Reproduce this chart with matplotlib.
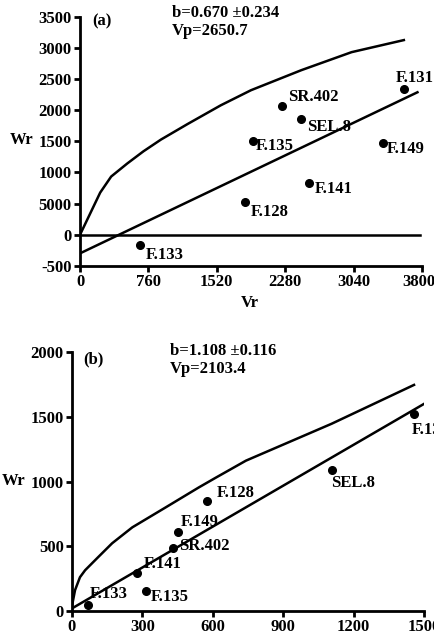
import matplotlib
matplotlib.use("Agg")
import matplotlib.pyplot as plt
import matplotlib.transforms as mtransforms

plt.rcParams['font.family'] = ['Liberation Serif', 'DejaVu Serif']
plt.rcParams['font.weight'] = 'bold'
plt.rcParams['font.size'] = 12

# ---- panel (a) data ----
a_names = ['F.131', 'SR.402', 'SEL.8', 'F.135', 'F.149', 'F.141', 'F.128', 'F.133']
a_vr = [3599, 2246, 2459, 1922, 3364, 2548, 1833, 671]
a_wr = [2339, 2065, 1855, 1500, 1468, 839, 532, -161]
a_curve_vr = [0, 224, 346, 525, 704, 900, 1196, 1565, 1900, 2459, 3018, 3599]
a_curve_wr = [0, 677, 935, 1145, 1340, 1530, 1780, 2081, 2323, 2645, 2935, 3129]
a_reg_vr = [0, 3750]
a_reg_wr = [-300, 2290]
a_xticks = [0, 760, 1520, 2280, 3040, 3800]
a_yticks = [-500, 0, 500, 1000, 1500, 2000, 2500, 3000, 3500]
a_yticklabels = ['-500', '0', '5000', '1000', '1500', '2000', '2500', '3000', '3500']
# label offsets in pixels
a_offsets = [(-8, 11), (6, 9), (6, -8), (3, -5), (4, -6), (5, -6), (6, -10), (5, -10)]

# ---- panel (b) data ----
b_names = ['F.131', 'SEL.8', 'F.128', 'F.149', 'SR.402', 'F.141', 'F.135', 'F.133']
b_vr = [1457, 1106, 574, 450, 429, 279, 317, 69]
b_wr = [1523, 1092, 846, 608, 485, 292, 154, 46]
b_curve_vr = [0, 13, 34, 56, 111, 171, 257, 399, 540, 613, 741, 1106, 1457]
b_curve_wr = [40, 161, 261, 315, 415, 523, 646, 800, 954, 1030, 1161, 1446, 1746]
b_reg_vr = [0, 1500]
b_reg_wr = [20, 1600]
b_xticks = [0, 300, 600, 900, 1200, 1500]
b_yticks = [0, 500, 1000, 1500, 2000]
b_offsets = [(-2, -16), (-1, -13), (10, 8), (3, 10), (6, 2), (6, 9), (4, -6), (2, 11)]

fig = plt.figure(figsize=(4.35, 6.42), dpi=100)
ax1 = fig.add_axes([0.184, 0.586, 0.786, 0.3875])
ax2 = fig.add_axes([0.1655, 0.0483, 0.8095, 0.4034])


def style(ax):
    for s in ['top', 'right']:
        ax.spines[s].set_visible(False)
    for s in ['left', 'bottom']:
        ax.spines[s].set_linewidth(2)
    ax.tick_params(width=2, length=4, pad=2)
    for lab in ax.get_xticklabels() + ax.get_yticklabels():
        lab.set_fontweight('bold')


def points(ax, names, xs, ys, offs):
    ax.plot(xs, ys, 'o', color='black', markersize=5.5, clip_on=False)
    for n, x, y, o in zip(names, xs, ys, offs):
        ax.annotate(n, xy=(x, y), xytext=o, textcoords='offset pixels',
                    ha='left', va='center', fontweight='bold', annotation_clip=False)


# panel (a)
ax1.plot(a_curve_vr, a_curve_wr, color='black', lw=1.8)
ax1.plot(a_reg_vr, a_reg_wr, color='black', lw=1.8)
ax1.plot([0, 3780], [0, 0], color='black', lw=1.8)
points(ax1, a_names, a_vr, a_wr, a_offsets)
ax1.set_xlim(0, 3800)
ax1.set_ylim(-500, 3500)
ax1.set_xticks(a_xticks)
ax1.set_yticks(a_yticks)
ax1.set_yticklabels(a_yticklabels)
style(ax1)
# nudge the last x label so it stays inside the figure
last = ax1.get_xticklabels()[-1]
last.set_transform(last.get_transform() +
                   mtransforms.ScaledTranslation(-3 / 100, 0, fig.dpi_scale_trans))
ax1.text(0.035, 0.984, '(a)', transform=ax1.transAxes, va='center', ha='left')
ax1.text(0.269, 1.016, 'b=0.670 \u00b10.234', transform=ax1.transAxes, va='center', ha='left')
ax1.text(0.269, 0.944, 'Vp=2650.7', transform=ax1.transAxes, va='center', ha='left')
ax1.text(-0.17, 0.506, 'Wr', transform=ax1.transAxes, va='center', ha='center')
ax1.text(0.497, -0.149, 'Vr', transform=ax1.transAxes, va='center', ha='center')

# panel (b)
ax2.plot(b_curve_vr, b_curve_wr, color='black', lw=1.8)
ax2.plot(b_reg_vr, b_reg_wr, color='black', lw=1.8)
points(ax2, b_names, b_vr, b_wr, b_offsets)
ax2.set_xlim(0, 1500)
ax2.set_ylim(0, 2000)
ax2.set_xticks(b_xticks)
ax2.set_yticks(b_yticks)
style(ax2)
ax2.text(0.031, 0.973, '(b)', transform=ax2.transAxes, va='center', ha='left')
ax2.text(0.278, 1.003, 'b=1.108 \u00b10.116', transform=ax2.transAxes, va='center', ha='left')
ax2.text(0.278, 0.934, 'Vp=2103.4', transform=ax2.transAxes, va='center', ha='left')
ax2.text(-0.165, 0.502, 'Wr', transform=ax2.transAxes, va='center', ha='center')

fig.savefig('out.png', dpi=100)
